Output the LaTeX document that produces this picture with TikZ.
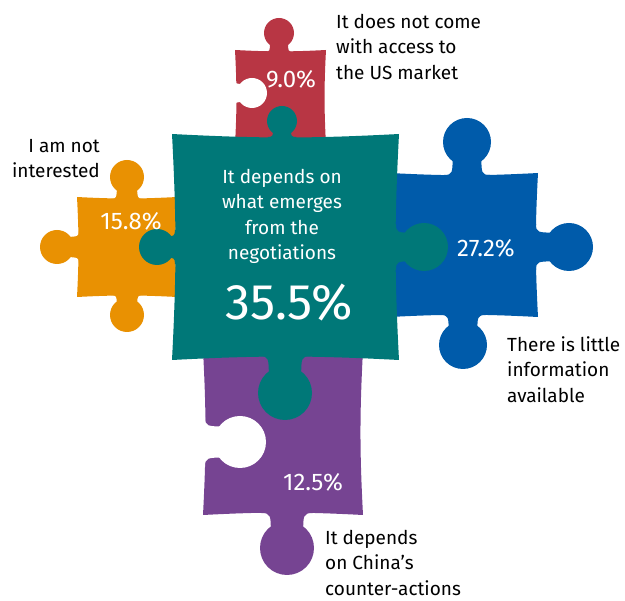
\documentclass[tikz,border=0pt]{standalone}
\usepackage{fontspec}
\setmainfont{Fira Sans}
\usetikzlibrary{positioning}

\definecolor{pzteal}{RGB}{0,120,120}
\definecolor{pzred}{RGB}{184,54,68}
\definecolor{pzorange}{RGB}{233,145,2}
\definecolor{pzblue}{RGB}{0,91,170}
\definecolor{pzpurple}{RGB}{118,68,146}

% square part of a piece: colour, x1, y1, x2, y2
\newcommand{\pzbody}[5]{%
	\fill[#1] (#2,#3) to[bend right=3] (#4,#3) to[bend right=3] (#4,#5)
		to[bend right=3] (#2,#5) to[bend right=3] cycle;}
% knob: colour, foot on the edge, angle, radius, distance to its centre
\newcommand{\knob}[5]{%
	\begin{scope}[shift={#2},rotate=#3]
		\fill[#1] (-0.95*#4,-2) -- (-0.95*#4,0) .. controls (-0.6*#4,0) and (-0.6*#4,0.1*#4) .. (-0.6*#4,#5-0.6*#4)
			-- (0.6*#4,#5-0.6*#4) .. controls (0.6*#4,0.1*#4) and (0.6*#4,0) .. (0.95*#4,0)
			-- (0.95*#4,-2) -- cycle;
		\fill[#1] (0,#5) circle[radius=#4];
	\end{scope}}

\begin{document}
\begin{tikzpicture}[x=1pt,y=-1pt,
	lbl/.style={font=\fontsize{19}{25.5}\selectfont, inner sep=0pt, align=left},
	pct/.style={text=white, font=\fontsize{24}{24}\selectfont, inner sep=0pt}]
	\useasboundingbox (0,0) rectangle (625,601);

	% red
	\pzbody{pzred}{235}{50}{326}{145}
	\knob{pzred}{(279,52)}{180}{15}{19}
	\knob{white}{(235,93)}{90}{15}{17}
	% orange
	\pzbody{pzorange}{77}{197}{177}{297}
	\knob{pzorange}{(127,199)}{180}{17}{22}
	\knob{pzorange}{(79,247)}{-90}{17}{22}
	\knob{pzorange}{(127,295)}{0}{17}{20}
	% blue
	\pzbody{pzblue}{390}{173}{538}{317}
	\knob{pzblue}{(467,175)}{180}{24}{33}
	\knob{pzblue}{(536,247)}{90}{24}{33}
	\knob{pzblue}{(463,315)}{0}{24}{30}
	% purple
	\pzbody{pzpurple}{203}{350}{363}{515}
	\knob{white}{(205,442)}{90}{26}{35}
	\knob{pzpurple}{(287,513)}{0}{27}{35}
	% teal
	\pzbody{pzteal}{172}{134}{399}{360}
	\knob{pzteal}{(282,137)}{180}{15}{16}
	\knob{pzteal}{(396,247)}{90}{24}{28}
	\knob{pzteal}{(285,356)}{0}{27}{37}
	\knob{pzteal}{(175,247)}{-90}{18}{18}

	\node[pct] (p90) at (291,79) {9.0\%};
	\node[pct] (p158) at (131,221) {15.8\%};
	\node[pct] (p272) at (486,248) {27.2\%};
	\node[pct] (p125) at (313,482) {12.5\%};
	\node[pct, font=\fontsize{50}{50}\selectfont] (p355) at (289,303) {35.5\%};

	\node[lbl, text=white, align=center, anchor=north] (mid) at (282,169)
		{It depends on\\what emerges\\from the\\negotiations};
	\node[lbl, anchor=north west] (usa) at (336,14)
		{It does not come\\with access to\\the US market};
	\node[lbl, align=right, anchor=north east] (nint) at (100,139)
		{I am not\\interested};
	\node[lbl, anchor=north west] (info) at (507,336)
		{There is little\\information\\available};
	\node[lbl, anchor=north west] (china) at (325,530)
		{It depends\\on China's\\counter-actions};
\end{tikzpicture}
\end{document}
